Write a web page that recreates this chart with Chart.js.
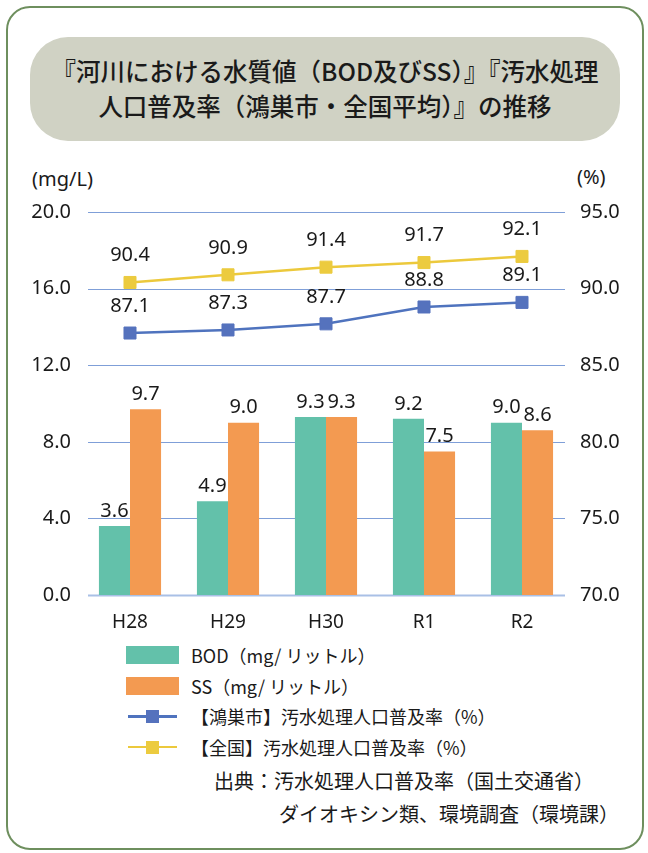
<!DOCTYPE html>
<html>
<head>
<meta charset="utf-8">
<script src="https://cdn.jsdelivr.net/npm/chart.js@4.4.1/dist/chart.umd.min.js"></script>
<style>
  body { margin: 0; background: #fff; color: #1a1a1a; font-family: "Noto Sans CJK JP", "Noto Sans", sans-serif; }
  #frame { position: absolute; left: 6px; top: 6px; width: 634px; height: 840px; border: 2px solid #6e8f5e; border-radius: 24px; }
  #title { position: absolute; left: 30px; top: 37px; width: 590px; height: 104px; background: #d0d2c4; border-radius: 38px;
           text-align: center; font-size: 24.5px; line-height: 35px; padding-top: 16px; box-sizing: border-box; font-weight: 500; }
  #wrap { position: absolute; left: 0; top: 0; width: 648px; height: 640px; }
  .unit { position: absolute; font-size: 20px; font-family: "Noto Sans", sans-serif; }
  #legend { position: absolute; left: 126px; top: 640px; font-size: 18px; }
  .row { display: flex; align-items: center; height: 30.5px; }
  .sw { width: 53px; height: 18px; margin-right: 12px; }
  .ln { width: 53px; height: 18px; margin-right: 12px; position: relative; }
  .ln i { position: absolute; left: 2px; right: 2px; top: 8px; height: 2.5px; }
  .ln b { position: absolute; left: 20px; top: 3px; width: 13px; height: 13px; }
  .src { position: absolute; font-size: 20px; white-space: nowrap; }
</style>
</head>
<body>
<div id="frame"></div>
<div id="title">『河川における水質値（BOD及びSS）』『汚水処理<br>人口普及率（鴻巣市・全国平均）』の推移</div>
<div class="unit" style="left:32px;top:165px">(mg/L)</div>
<div class="unit" style="left:577px;top:163px">(%)</div>
<div id="wrap"><canvas id="chart" width="648" height="640"></canvas></div>
<div id="legend"></div>
<div class="src" style="left:214px;top:766px">出典：汚水処理人口普及率（国土交通省）</div>
<div class="src" style="left:279px;top:799px">ダイオキシン類、環境調査（環境課）</div>
<script>
const categories = ['H28', 'H29', 'H30', 'R1', 'R2'];
const bodValues = [3.6, 4.9, 9.3, 9.2, 9.0];
const ssValues = [9.7, 9.0, 9.3, 7.5, 8.6];
const konosuRates = [87.1, 87.3, 87.7, 88.8, 89.1];
const nationalRates = [90.4, 90.9, 91.4, 91.7, 92.1];
const seriesNames = ['BOD（mg/ リットル）', 'SS（mg/ リットル）', '【鴻巣市】汚水処理人口普及率（%）', '【全国】汚水処理人口普及率（%）'];

const numFont = '"Noto Sans", "Noto Sans CJK JP", sans-serif';

// grid lines are shorter than the category band, so draw them by hand
const gridPlugin = {
    id: 'shortGrid',
    beforeDatasetsDraw(chart) {
        const ctx = chart.ctx;
        const y = chart.scales.y;
        ctx.save();
        y.ticks.forEach(t => {
            const py = Math.round(y.getPixelForValue(t.value)) + 0.5;
            ctx.strokeStyle = t.value === 0 ? '#a9c0e6' : '#7f9fd8';
            ctx.lineWidth = t.value === 0 ? 2 : 1;
            ctx.beginPath();
            ctx.moveTo(88, py);
            ctx.lineTo(565, py);
            ctx.stroke();
        });
        ctx.restore();
    }
};

// value labels above bars and points
const labelPlugin = {
    id: 'valueLabels',
    afterDatasetsDraw(chart) {
        const ctx = chart.ctx;
        ctx.save();
        ctx.font = '20px ' + numFont;
        ctx.fillStyle = '#1a1a1a';
        ctx.textAlign = 'center';
        ctx.textBaseline = 'middle';
        chart.data.datasets.forEach((ds, i) => {
            const meta = chart.getDatasetMeta(i);
            const off = ds.type === 'line' ? 27 : 15;
            meta.data.forEach((el, j) => {
                ctx.fillText(ds.data[j].toFixed(1), el.x, el.y - off);
            });
        });
        ctx.restore();
    }
};

const ctx = document.getElementById('chart').getContext('2d');
const chart = new Chart(ctx, {
    data: {
        labels: categories,
        datasets: [
            {
                type: 'bar', label: seriesNames[0], data: bodValues, yAxisID: 'y',
                backgroundColor: '#63c1aa', order: 2,
                categoryPercentage: 0.634, barPercentage: 1
            },
            {
                type: 'bar', label: seriesNames[1], data: ssValues, yAxisID: 'y',
                backgroundColor: '#f39a51', order: 2,
                categoryPercentage: 0.634, barPercentage: 1
            },
            {
                type: 'line', label: seriesNames[2], data: konosuRates, yAxisID: 'y2',
                borderColor: '#4f73be', borderWidth: 2.5, backgroundColor: '#5572bd',
                pointStyle: 'rect', pointRadius: 8.5, pointBorderWidth: 1, pointBorderColor: '#5572bd',
                order: 1
            },
            {
                type: 'line', label: seriesNames[3], data: nationalRates, yAxisID: 'y2',
                borderColor: '#ecc93c', borderWidth: 2.5, backgroundColor: '#eccb3f',
                pointStyle: 'rect', pointRadius: 8.5, pointBorderWidth: 1, pointBorderColor: '#eccb3f',
                order: 0
            }
        ]
    },
    options: {
        responsive: false,
        animation: false,
        layout: { padding: { top: 212, left: 0, right: 0, bottom: 0 } },
        plugins: { legend: { display: false }, tooltip: { enabled: false } },
        scales: {
            x: {
                grid: { display: false }, border: { display: false },
                ticks: { color: '#1a1a1a', font: { family: numFont, size: 19 }, padding: 8 },
                afterFit: s => { s.height = 45; }
            },
            y: {
                position: 'left', min: 0, max: 20,
                grid: { display: false }, border: { display: false },
                ticks: { stepSize: 4, color: '#1a1a1a', font: { family: numFont, size: 20 }, padding: 2,
                         callback: v => v.toFixed(1) },
                afterFit: s => { s.width = 81; }
            },
            y2: {
                position: 'right', min: 70, max: 95,
                grid: { display: false }, border: { display: false },
                ticks: { stepSize: 5, color: '#1a1a1a', font: { family: numFont, size: 20 }, padding: 1,
                         callback: v => v.toFixed(1) },
                afterFit: s => { s.width = 77; }
            }
        }
    },
    plugins: [gridPlugin, labelPlugin]
});

// legend as html, built from the datasets
const legend = document.getElementById('legend');
chart.data.datasets.forEach(ds => {
    const row = document.createElement('div');
    row.className = 'row';
    let mark;
    if (ds.type === 'bar') {
        mark = '<span class="sw" style="background:' + ds.backgroundColor + '"></span>';
    } else {
        mark = '<span class="ln"><i style="background:' + ds.borderColor + '"></i><b style="background:' + ds.backgroundColor + '"></b></span>';
    }
    row.innerHTML = mark + '<span>' + ds.label + '</span>';
    legend.appendChild(row);
});
</script>
</body>
</html>
